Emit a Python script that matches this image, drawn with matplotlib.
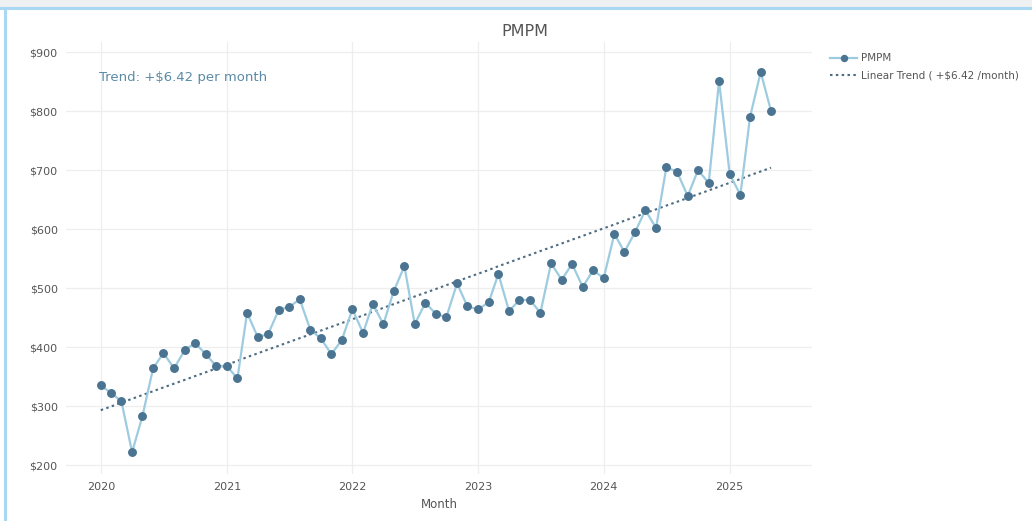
import numpy as np
import pandas as pd
import matplotlib
matplotlib.use("Agg")
import matplotlib.pyplot as plt
from matplotlib.patches import Rectangle
from matplotlib.lines import Line2D

# Monthly per-member-per-month cost, Jan 2020 .. May 2025
months = pd.date_range("2020-01-01", periods=65, freq="MS")
pmpm = [
    335, 322, 308, 222, 283, 364, 390, 364, 395, 407, 388, 368,
    368, 347, 458, 417, 422, 463, 468, 481, 429, 415, 388, 412,
    464, 424, 473, 439, 495, 537, 439, 475, 456, 451, 508, 469,
    464, 476, 524, 461, 480, 480, 458, 542, 514, 541, 502, 530,
    517, 592, 561, 595, 632, 602, 705, 697, 656, 700, 678, 851,
    693, 658, 790, 866, 800,
]
trend_slope = 6.42  # dollars per month
year_ticks = ["2020", "2021", "2022", "2023", "2024", "2025"]
y_ticks = [200, 300, 400, 500, 600, 700, 800, 900]

plt.rcParams["font.family"] = ["DejaVu Sans"]

W, H = 1032, 521
fig = plt.figure(figsize=(W / 100, H / 100), dpi=100)
fig.patch.set_facecolor("white")

# page background strip and light-blue card frame
fig.patches.append(Rectangle((0, (H - 7) / H), 1, 7 / H, transform=fig.transFigure,
                             facecolor="#eef0f1", edgecolor="none", zorder=0))
fig.lines.append(Line2D([0, 1], [(H - 8) / H] * 2, transform=fig.transFigure,
                        color="#a9d9f2", lw=2.2))
fig.lines.append(Line2D([5 / W, 5 / W], [0, (H - 8) / H], transform=fig.transFigure,
                        color="#a9d9f2", lw=2.2))

left, right, top, bottom = 66, 812, 42, 474
ax = fig.add_axes([left / W, 1 - bottom / H, (right - left) / W, (bottom - top) / H])
ax.set_facecolor("white")

t = np.arange(len(pmpm))
vals = np.array(pmpm, dtype=float)
intercept = vals.mean() - trend_slope * t.mean()
trend = intercept + trend_slope * t

ax.plot(months, pmpm, color="#9dcbe0", lw=1.6, marker="o", markersize=5.4,
        markerfacecolor="#4a7491", markeredgecolor="#4a7491", zorder=3,
        label="PMPM")
ax.plot(months, trend, color="#4f6d82", lw=1.5, linestyle=(0, (1.2, 1.6)), zorder=2,
        label=f"Linear Trend ( +${trend_slope:.2f} /month)")

ax.set_xlim(pd.Timestamp("2019-09-22"), pd.Timestamp("2025-08-28"))
ax.set_ylim(185, 917)
ax.set_xticks([pd.Timestamp(f"{y}-01-01") for y in year_ticks])
ax.set_xticklabels(year_ticks)
ax.set_yticks(y_ticks)
ax.set_yticklabels([f"${v}" for v in y_ticks])
ax.tick_params(length=0, labelsize=8, colors="#555555", pad=6)
ax.grid(True, color="#eeeeee", lw=0.9)
ax.set_axisbelow(True)
for s in ax.spines.values():
    s.set_visible(False)

ax.set_xlabel("Month", fontsize=8.5, color="#555555", labelpad=4)

fig.text(525 / W, 1 - 31 / H, "PMPM", ha="center", va="center",
         fontsize=11.5, color="#555555")

ax.text(99 / W, 1 - 77 / H, f"Trend: +${trend_slope:.2f} per month",
        transform=fig.transFigure, ha="left", va="center",
        fontsize=9.5, color="#5b8aa6")

leg = fig.legend(loc="upper left", bbox_to_anchor=(826 / W, 1 - 49 / H),
                 frameon=False, fontsize=7.5, handlelength=2.6, markerscale=0.8,
                 handletextpad=0.4, labelspacing=0.75, borderaxespad=0)
for txt in leg.get_texts():
    txt.set_color("#555555")

fig.savefig("out.png", dpi=100, facecolor="white")
